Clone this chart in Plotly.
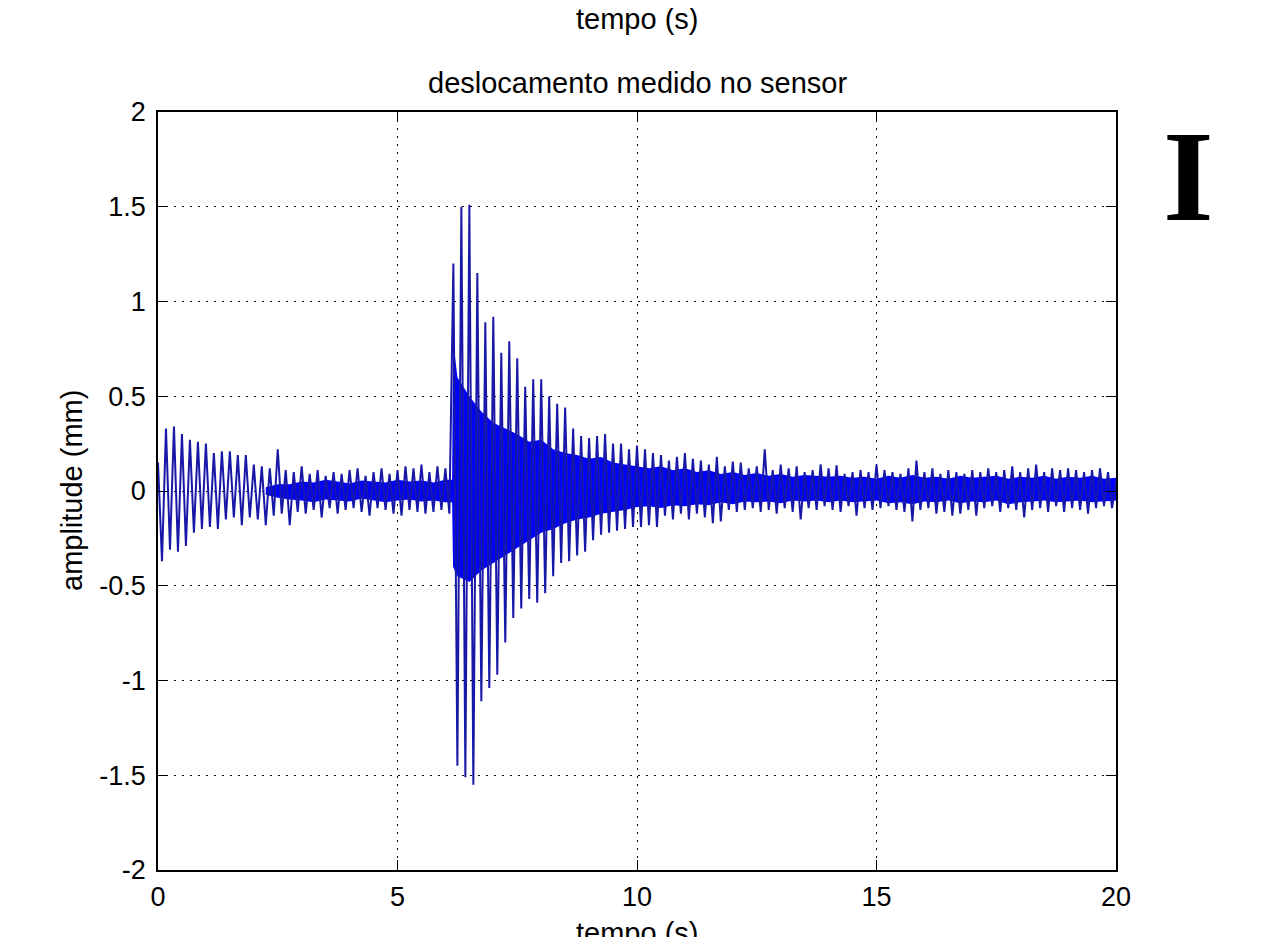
import numpy as np
import plotly.graph_objects as go

# ---- data ----
# alternating peak / trough values of the signal, one every 1/12 s from 0 to 20 s
extremes_per_second = 12
y_blocks = [
    [0.15, -0.37, 0.33, -0.31, 0.34, -0.32, 0.30, -0.29, 0.27, -0.22, 0.26, -0.20],   # 0 s
    [0.25, -0.19, 0.20, -0.20, 0.21, -0.15, 0.21, -0.14, 0.19, -0.18, 0.19, -0.14],   # 1 s
    [0.14, -0.15, 0.13, -0.18, 0.12, -0.13, 0.22, -0.12, 0.11, -0.18, 0.10, -0.11],   # 2 s
    [0.13, -0.12, 0.09, -0.10, 0.11, -0.14, 0.08, -0.09, 0.10, -0.12, 0.09, -0.10],   # 3 s
    [0.11, -0.09, 0.12, -0.11, 0.08, -0.13, 0.10, -0.09, 0.12, -0.10, 0.09, -0.12],   # 4 s
    [0.11, -0.13, 0.13, -0.10, 0.12, -0.11, 0.14, -0.12, 0.10, -0.11, 0.13, -0.10],   # 5 s
    [0.12, -0.12, 1.20, -1.45, 1.50, -1.51, 1.51, -1.55, 1.15, -1.11, 0.89, -1.04],   # 6 s
    [0.92, -0.97, 0.73, -0.80, 0.79, -0.67, 0.70, -0.62, 0.55, -0.57, 0.59, -0.59],   # 7 s
    [0.59, -0.54, 0.50, -0.45, 0.46, -0.38, 0.44, -0.37, 0.33, -0.34, 0.29, -0.32],   # 8 s
    [0.28, -0.26, 0.29, -0.23, 0.30, -0.22, 0.25, -0.21, 0.25, -0.20, 0.22, -0.19],   # 9 s
    [0.24, -0.19, 0.22, -0.18, 0.20, -0.19, 0.19, -0.13, 0.16, -0.15, 0.18, -0.12],   # 10 s
    [0.20, -0.15, 0.17, -0.12, 0.16, -0.14, 0.14, -0.17, 0.18, -0.16, 0.13, -0.10],   # 11 s
    [0.155, -0.11, 0.15, -0.10, 0.12, -0.09, 0.13, -0.11, 0.22, -0.10, 0.11, -0.12],  # 12 s
    [0.14, -0.09, 0.12, -0.11, 0.13, -0.15, 0.10, -0.09, 0.11, -0.10, 0.14, -0.08],   # 13 s
    [0.12, -0.10, 0.135, -0.11, 0.09, -0.08, 0.10, -0.13, 0.11, -0.09, 0.10, -0.10],  # 14 s
    [0.14, -0.09, 0.11, -0.08, 0.10, -0.10, 0.09, -0.11, 0.12, -0.16, 0.16, -0.10],   # 15 s
    [0.10, -0.09, 0.12, -0.12, 0.09, -0.11, 0.11, -0.13, 0.10, -0.12, 0.09, -0.10],   # 16 s
    [0.11, -0.13, 0.10, -0.09, 0.12, -0.08, 0.10, -0.11, 0.11, -0.09, 0.13, -0.10],   # 17 s
    [0.10, -0.14, 0.12, -0.10, 0.14, -0.09, 0.10, -0.11, 0.12, -0.08, 0.11, -0.11],   # 18 s
    [0.12, -0.09, 0.11, -0.10, 0.10, -0.12, 0.11, -0.09, 0.12, -0.08, 0.10, -0.09],   # 19 s
    [0.05],                                                                           # 20 s
]

# dense (solid) core of the trace: time, upper and lower edge
band_t = [2.25, 2.5, 2.75, 3.0, 3.25, 3.5, 3.75, 4.0, 4.25, 4.5, 4.75, 5.0, 5.25, 5.5, 5.75, 6.0,
          6.14, 6.16,
          6.25, 6.5, 6.75, 7.0, 7.25, 7.5, 7.75, 8.0, 8.25, 8.5, 8.75, 9.0, 9.25, 9.5, 9.75, 10.0,
          10.25, 10.5, 10.75, 11.0, 11.25, 11.5, 11.75, 12.0, 12.25, 12.5, 12.75, 13.0, 13.25, 13.5, 13.75, 14.0,
          14.25, 14.5, 14.75, 15.0, 15.25, 15.5, 15.75, 16.0, 16.25, 16.5, 16.75, 17.0, 17.25, 17.5, 17.75, 18.0,
          18.25, 18.5, 18.75, 19.0, 19.25, 19.5, 19.75, 20.0]
band_hi = [0.02, 0.035, 0.035, 0.05, 0.045, 0.06, 0.05, 0.04, 0.055, 0.05, 0.045, 0.06, 0.05, 0.055, 0.045, 0.06,
           0.06, 0.80,
           0.60, 0.50, 0.42, 0.36, 0.33, 0.30, 0.26, 0.27, 0.22, 0.20, 0.19, 0.17, 0.18, 0.15, 0.14, 0.13,
           0.12, 0.13, 0.11, 0.12, 0.10, 0.11, 0.09, 0.10, 0.085, 0.095, 0.08, 0.09, 0.075, 0.085, 0.08, 0.075,
           0.08, 0.07, 0.075, 0.065, 0.08, 0.07, 0.085, 0.07, 0.075, 0.065, 0.08, 0.07, 0.075, 0.08, 0.065, 0.075,
           0.07, 0.08, 0.065, 0.075, 0.07, 0.08, 0.065, 0.07]
band_lo = [-0.02, -0.035, -0.045, -0.05, -0.06, -0.045, -0.05, -0.055, -0.04, -0.05, -0.06, -0.05, -0.045, -0.055, -0.05, -0.06,
           -0.06, -0.40,
           -0.45, -0.48, -0.42, -0.38, -0.34, -0.30, -0.26, -0.22, -0.20, -0.17, -0.15, -0.14, -0.12, -0.11, -0.10, -0.085,
           -0.08, -0.09, -0.075, -0.08, -0.07, -0.075, -0.06, -0.07, -0.055, -0.06, -0.055, -0.065, -0.05, -0.055, -0.05, -0.06,
           -0.05, -0.06, -0.055, -0.05, -0.065, -0.06, -0.07, -0.055, -0.06, -0.05, -0.065, -0.055, -0.06, -0.05, -0.07, -0.06,
           -0.055, -0.05, -0.06, -0.055, -0.05, -0.06, -0.055, -0.05]

x_ticks = [0, 5, 10, 15, 20]
x_tick_text = ["0", "5", "10", "15", "20"]
y_ticks = [-2, -1.5, -1, -0.5, 0, 0.5, 1, 1.5, 2]
y_tick_text = ["-2", "-1.5", "-1", "-0.5", "0", "0.5", "1", "1.5", "2"]

title_text = "deslocamento medido no sensor"
x_label = "tempo (s)"
y_label = "amplitude (mm)"
panel_letter = "I"

# ---- figure ----
y_ext = [v for block in y_blocks for v in block]
t_ext = np.arange(len(y_ext)) / extremes_per_second

OFF = 8  # page margin of the html body
W, H = 1263 - OFF, 937 - OFF
L, T = 158 - OFF, 112 - OFF
R, B = W - (1116 - OFF), H - (870 - OFF)
FONT = "Liberation Sans, Arial, sans-serif"
BLUE = "#0000ff"

fig = go.Figure()
fig.add_trace(go.Scatter(x=band_t, y=band_lo, mode="lines", line=dict(width=0, color=BLUE),
                         showlegend=False, hoverinfo="skip"))
fig.add_trace(go.Scatter(x=band_t, y=band_hi, mode="lines", line=dict(width=0, color=BLUE),
                         fill="tonexty", fillcolor=BLUE, showlegend=False, hoverinfo="skip"))
fig.add_trace(go.Scatter(x=t_ext, y=y_ext, mode="lines",
                         line=dict(color="#1818a8", width=2), showlegend=False))

axis_common = dict(
    showline=True, linecolor="black", linewidth=1.5, mirror="ticks",
    ticks="inside", ticklen=10, tickwidth=1.2, tickcolor="black",
    showgrid=True, gridcolor="black", gridwidth=1, griddash="2px,6px",
    zeroline=False, tickfont=dict(family=FONT, size=27, color="black"),
)

fig.update_xaxes(range=[0, 20], tickvals=x_ticks, ticktext=x_tick_text,
                 ticklabelstandoff=2, **axis_common)
fig.update_yaxes(range=[-2, 2], tickvals=y_ticks, ticktext=y_tick_text,
                 ticklabelstandoff=5, **axis_common)

ph = H - T - B
pw = W - L - R
def py(p):  # page pixel -> paper
    return (H - B - (p - OFF)) / ph
def px(p):
    return ((p - OFF) - L) / pw

ann = [
    dict(text=title_text, x=0.5, y=py(83), xref="paper", yref="paper", showarrow=False,
         xanchor="center", yanchor="middle", font=dict(family=FONT, size=29, color="black")),
    dict(text=x_label, x=0.5, y=py(19), xref="paper", yref="paper", showarrow=False,
         xanchor="center", yanchor="middle", font=dict(family=FONT, size=29, color="black")),
    dict(text=x_label, x=0.5, y=py(933), xref="paper", yref="paper", showarrow=False,
         xanchor="center", yanchor="middle", font=dict(family=FONT, size=29, color="black")),
    dict(text=y_label, x=px(72), y=0.5, xref="paper", yref="paper", showarrow=False,
         textangle=-90, xanchor="center", yanchor="middle",
         font=dict(family=FONT, size=29, color="black")),
    dict(text="<b>" + panel_letter + "</b>", x=px(1188), y=py(176), xref="paper", yref="paper",
         showarrow=False, xanchor="center", yanchor="middle",
         font=dict(family="Liberation Serif, Times New Roman, serif", size=130, color="black")),
]

fig.update_layout(
    width=W, height=H, margin=dict(l=L, r=R, t=T, b=B),
    paper_bgcolor="white", plot_bgcolor="white",
    annotations=ann, showlegend=False,
)

fig.write_html("out.html")
